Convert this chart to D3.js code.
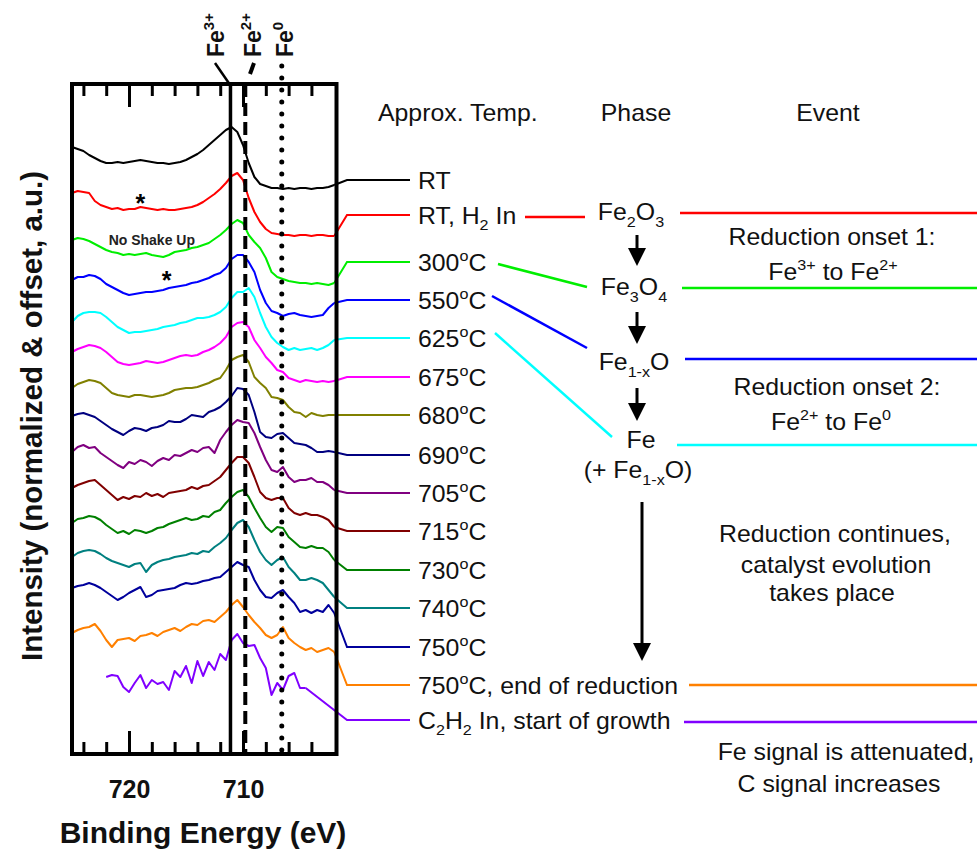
<!DOCTYPE html>
<html>
<head>
<meta charset="utf-8">
<script src="https://cdn.jsdelivr.net/npm/d3@7"></script>
<style>
  body { margin: 0; background: #fff; }
  svg { display: block; font-family: "Liberation Sans", Arial, sans-serif; }
</style>
</head>
<body>
<svg id="chart" width="977" height="852"></svg>
<script>
// Binding energy grid (eV), shared by all spectra
const energies = [725, 724.5, 724, 723.5, 723, 722.5, 722, 721.5, 721, 720.5,
  720, 719.5, 719, 718.5, 718, 717.5, 717, 716.5, 716, 715.5,
  715, 714.5, 714, 713.5, 713, 712.5, 712, 711.5, 711, 710.5,
  710, 709.5, 709, 708.5, 708, 707.5, 707, 706.5, 706, 705.5,
  705, 704.5, 704, 703.5, 703, 702.5, 702];

// Intensities (normalized & offset, a.u.)
const rtVals = [60.7, 60.5, 60.3, 59.9, 59.6, 59.3, 59.1, 59.1, 59.2, 59.1,
  59.2, 59.3, 59.4, 59.3, 59.2, 59.1, 59.1, 59.0, 59.1, 59.2,
  59.4, 59.7, 60.0, 60.4, 60.9, 61.4, 61.9, 62.4, 62.7, 62.2,
  60.9, 59.1, 57.7, 57.0, 56.8, 56.6, 56.6, 56.5, 56.6, 56.5,
  56.6, 56.6, 56.5, 56.6, 56.6, 56.7, 56.9];
const rtH2Vals = [56.1, 56.3, 56.2, 56.1, 55.3, 54.9, 54.7, 54.5, 54.6, 54.4,
  54.5, 54.5, 54.7, 54.6, 54.5, 54.4, 54.5, 54.4, 54.4, 54.5,
  54.6, 54.7, 54.9, 55.2, 55.6, 56.0, 56.5, 57.1, 57.8, 58.1,
  57.4, 55.6, 54.2, 53.2, 52.5, 52.1, 52.0, 51.9, 51.9, 51.8,
  51.9, 51.9, 51.8, 51.9, 51.9, 51.8, 51.8];
const t300Vals = [51.4, 51.6, 51.5, 51.3, 51.0, 50.7, 50.4, 50.2, 50.1, 49.9,
  50.0, 49.9, 50.0, 50.1, 49.9, 49.8, 49.7, 49.9, 50.2, 50.3,
  50.4, 50.6, 50.7, 50.9, 51.1, 51.5, 51.9, 52.4, 53.0, 53.4,
  53.1, 51.9, 51.2, 50.6, 49.6, 48.2, 47.7, 47.5, 47.3, 47.2,
  47.1, 47.1, 47.0, 47.1, 47.0, 46.9, 47.1];
const t550Vals = [47.4, 47.7, 47.7, 47.9, 47.8, 47.5, 47.0, 46.7, 46.4, 46.1,
  45.9, 46.0, 46.1, 46.2, 46.2, 46.3, 46.4, 46.6, 46.7, 46.8,
  46.9, 47.1, 47.2, 47.4, 47.6, 47.9, 48.1, 48.6, 49.5, 49.9,
  49.9, 49.2, 48.2, 46.4, 45.1, 44.3, 44.1, 43.8, 44.0, 44.1,
  43.9, 43.8, 43.7, 43.8, 43.9, 44.6, 45.1];
const t625Vals = [43.2, 43.8, 44.1, 44.2, 44.2, 44.1, 43.7, 43.2, 42.7, 42.4,
  42.1, 42.2, 42.2, 42.3, 42.4, 42.5, 42.7, 42.8, 42.9, 43.1,
  43.2, 43.4, 43.6, 43.6, 43.7, 43.9, 44.2, 44.7, 45.6, 46.2,
  46.2, 46.6, 45.7, 44.1, 42.7, 41.7, 41.1, 40.7, 40.4, 40.6,
  40.4, 40.5, 40.6, 40.4, 40.6, 40.9, 41.4];
const t675Vals = [40.2, 40.5, 40.7, 40.9, 40.8, 40.6, 40.2, 39.7, 39.2, 39.0,
  38.9, 39.0, 39.1, 39.3, 39.2, 39.1, 39.2, 39.4, 39.6, 39.8,
  39.9, 39.8, 39.9, 40.2, 40.4, 40.7, 41.1, 41.7, 42.7, 43.1,
  43.2, 42.7, 41.4, 40.6, 39.7, 39.1, 38.4, 38.2, 37.6, 37.4,
  37.2, 37.4, 37.3, 37.2, 37.3, 37.2, 37.3];
const t680Vals = [36.6, 37.0, 37.2, 37.4, 37.3, 37.1, 36.6, 36.1, 35.9, 35.8,
  35.7, 35.9, 35.9, 35.8, 35.7, 35.8, 35.9, 36.1, 36.4, 36.5,
  36.6, 36.6, 36.7, 36.9, 37.1, 37.4, 37.6, 38.4, 39.4, 39.7,
  39.9, 39.2, 37.7, 37.1, 36.6, 35.7, 35.6, 35.4, 34.7, 34.2,
  34.1, 33.7, 34.1, 33.9, 33.8, 33.9, 33.9];
const t690Vals = [33.8, 34.0, 34.1, 33.9, 33.7, 33.3, 32.9, 32.5, 32.2, 31.9,
  32.3, 32.6, 32.5, 32.3, 32.6, 32.7, 32.9, 33.3, 33.2, 33.2,
  33.5, 33.9, 33.8, 33.7, 34.2, 34.4, 34.7, 35.2, 35.8, 36.6,
  36.5, 35.9, 34.2, 32.2, 31.7, 31.6, 32.0, 32.1, 31.6, 31.1,
  31.0, 30.9, 30.6, 30.2, 30.2, 30.3, 30.2];
const t705Vals = [30.2, 30.7, 30.9, 30.6, 30.7, 30.1, 29.7, 29.3, 28.9, 28.6,
  29.2, 29.0, 29.4, 29.2, 28.8, 29.3, 29.6, 29.4, 29.9, 29.8,
  30.1, 30.4, 30.2, 30.6, 30.7, 30.1, 31.4, 32.2, 32.9, 33.4,
  33.2, 33.1, 32.1, 30.7, 29.4, 28.4, 28.2, 28.7, 27.7, 27.2,
  27.4, 27.4, 27.6, 27.2, 27.2, 26.9, 26.4];
const t715Vals = [26.6, 26.9, 27.1, 27.3, 27.4, 26.9, 26.4, 25.9, 25.4, 25.7,
  25.5, 25.8, 25.7, 26.1, 25.8, 26.0, 25.7, 26.1, 26.2, 26.3,
  26.4, 26.7, 26.5, 26.8, 26.9, 27.3, 27.7, 28.4, 29.1, 29.7,
  29.7, 29.1, 27.7, 26.2, 25.6, 25.4, 25.6, 25.6, 24.6, 24.1,
  23.9, 24.1, 23.9, 23.9, 23.7, 23.4, 22.7];
const t730Vals = [23.1, 23.5, 23.6, 23.8, 23.7, 23.4, 22.9, 22.5, 22.1, 22.3,
  22.0, 22.4, 22.3, 22.1, 22.3, 22.6, 22.7, 23.0, 23.2, 23.4,
  23.6, 23.4, 23.5, 23.8, 23.7, 24.2, 24.4, 25.1, 25.7, 26.2,
  26.4, 25.7, 24.6, 23.6, 22.7, 22.2, 22.7, 22.6, 21.7, 21.2,
  20.7, 20.6, 20.8, 20.6, 20.6, 20.2, 19.4];
const t740Vals = [19.7, 20.1, 20.3, 20.4, 20.3, 20.0, 19.6, 19.3, 19.1, 18.9,
  18.7, 19.0, 19.1, 18.2, 18.9, 19.2, 19.4, 19.5, 19.7, 19.8,
  19.9, 20.1, 20.0, 20.3, 20.2, 20.7, 21.1, 21.6, 22.4, 23.1,
  23.4, 22.7, 21.4, 20.2, 19.4, 18.9, 19.4, 19.7, 18.7, 18.1,
  17.4, 17.4, 17.6, 17.4, 17.1, 16.4, 15.7];
const t750Vals = [16.6, 16.8, 16.9, 17.1, 16.9, 16.6, 16.2, 15.8, 15.4, 15.7,
  16.1, 16.4, 16.7, 15.7, 15.9, 16.3, 16.4, 16.5, 16.6, 16.9,
  17.1, 17.0, 17.1, 17.3, 17.4, 17.6, 17.7, 18.2, 18.7, 19.2,
  18.9, 18.7, 17.4, 16.4, 15.7, 15.6, 16.1, 16.4, 15.7, 15.1,
  14.2, 14.4, 14.1, 14.4, 14.2, 14.9, 14.1];
const endVals = [12.1, 12.4, 12.6, 12.7, 13.0, 12.3, 11.4, 10.7, 11.4, 11.5,
  11.6, 11.3, 11.8, 11.9, 12.1, 11.8, 12.2, 12.4, 12.6, 12.3,
  12.7, 13.0, 12.9, 13.3, 13.4, 13.2, 13.7, 14.2, 14.9, 15.4,
  14.7, 13.9, 13.2, 12.6, 11.9, 11.6, 11.9, 12.7, 11.6, 11.1,
  10.7, 10.4, 10.6, 10.2, 10.4, 10.6, 10.2];
const c2h2Vals = [null, null, null, null, null, null, 7.7, 7.9, 7.8, 6.7,
  6.2, 7.1, 7.9, 6.6, 7.4, 7.0, 7.2, 6.4, 8.3, 7.7,
  8.8, 7.1, 9.3, 7.8, 9.2, 8.4, 10.0, 9.4, 11.4, 12.0,
  11.1, 10.8, 10.9, 9.6, 8.6, 5.9, 7.1, 6.4, 7.8, 8.1,
  6.6, 6.6, null, null, null, null, null];

// Labels (text parts: [string, "sub" | "sup"])
const tempLabels = [
  [["RT"]],
  [["RT, H"], ["2", "sub"], [" In"]],
  [["300"], ["o", "sup"], ["C"]],
  [["550"], ["o", "sup"], ["C"]],
  [["625"], ["o", "sup"], ["C"]],
  [["675"], ["o", "sup"], ["C"]],
  [["680"], ["o", "sup"], ["C"]],
  [["690"], ["o", "sup"], ["C"]],
  [["705"], ["o", "sup"], ["C"]],
  [["715"], ["o", "sup"], ["C"]],
  [["730"], ["o", "sup"], ["C"]],
  [["740"], ["o", "sup"], ["C"]],
  [["750"], ["o", "sup"], ["C"]],
  [["750"], ["o", "sup"], ["C, end of reduction"]],
  [["C"], ["2", "sub"], ["H"], ["2", "sub"], [" In, start of growth"]]
];
const colors = ["#000000", "#ff0000", "#00ee00", "#0000ff", "#00ffff", "#ff00ff", "#808000",
  "#000080", "#800080", "#800000", "#008000", "#008080", "#00009c", "#ff8000", "#8000ff"];
const allVals = [rtVals, rtH2Vals, t300Vals, t550Vals, t625Vals, t675Vals, t680Vals,
  t690Vals, t705Vals, t715Vals, t730Vals, t740Vals, t750Vals, endVals, c2h2Vals];

// Reference binding energies of the iron states (eV)
const refLines = [
  { name: "3+", e: 711.1, dash: null, width: 3.5 },
  { name: "2+", e: 709.8, dash: "13 6", width: 4 },
  { name: "0", e: 706.6, dash: "0 12", width: 5 }
];
const minorTicks = [724, 722, 718, 716, 714, 712, 708, 706, 704];
const majorTicks = [720, 710];
const stars = [{ e: 719.0, v: 55.6 }, { e: 716.7, v: 47.9 }];
const shakeNote = { e: 718.0, v: 51.4, text: "No Shake Up" };

// ---------------------------------------------------------------
const svg = d3.select("#chart");
const x = d3.scaleLinear().domain([725, 701.8]).range([72, 336.5]);
const y = d3.scaleLinear().domain([0, 67]).range([754, 84]);
const [x0, x1] = x.range();
const [yB, yT] = y.range();

const SX = 1.08, FS = 23;
function rich(g, parts, transform, anchor, fs, bold) {
  const t = g.append("text")
    .attr("transform", transform)
    .attr("text-anchor", anchor)
    .attr("font-size", fs)
    .attr("font-weight", bold ? "bold" : null)
    .attr("fill", "#111");
  let shift = 0;
  parts.forEach(([str, kind]) => {
    const target = kind === "sub" ? fs * 0.3 : kind === "sup" ? -fs * 0.42 : 0;
    const ts = t.append("tspan").text(str).attr("dy", target - shift);
    if (kind) ts.attr("font-size", fs * 0.65);
    shift = target;
  });
  return t;
}

const series = allVals.map((vals, i) => ({
  color: colors[i],
  label: tempLabels[i],
  points: energies.map((e, j) => ({ e: e, v: vals[j] }))
}));

const line = d3.line()
  .defined(d => d.v != null)
  .x(d => x(d.e))
  .y(d => y(d.v));

// spectra
svg.append("g").selectAll("path")
  .data(series)
  .enter().append("path")
  .attr("d", d => line(d.points))
  .attr("fill", "none")
  .attr("stroke", d => d.color)
  .attr("stroke-width", 2)
  .attr("stroke-linejoin", "round");

// connectors to the temperature labels
const rowY = [180, 215, 262, 300, 338, 377, 415, 455, 493, 531, 570, 608, 647, 685, 720];
const bendX = 347, endX = 410;
svg.append("g").selectAll("path")
  .data(series)
  .enter().append("path")
  .attr("d", (d, i) => {
    const last = d.points.filter(p => p.v != null).pop();
    return `M${x(last.e)},${y(last.v)}L${bendX},${rowY[i]}L${endX},${rowY[i]}`;
  })
  .attr("fill", "none")
  .attr("stroke", d => d.color)
  .attr("stroke-width", 2);

const labG = svg.append("g");
series.forEach((s, i) => {
  rich(labG, s.label, `translate(418,${rowY[i] + 8.5}) scale(${SX},1)`, "start", FS);
});

// reference lines for Fe3+, Fe2+, Fe0
refLines.forEach(r => {
  svg.append("line")
    .attr("x1", x(r.e)).attr("x2", x(r.e))
    .attr("y1", r.name === "0" ? 66 : yT).attr("y2", yB)
    .attr("stroke", "#000")
    .attr("stroke-width", r.width)
    .attr("stroke-dasharray", r.dash)
    .attr("stroke-linecap", r.name === "0" ? "round" : "butt");
  const lx = { "3+": 224, "2+": 261, "0": 293 }[r.name];
  rich(svg, [["Fe"], [r.name, "sup"]], `translate(${lx},57) rotate(-90)`, "start", 23, true);
});
svg.append("line").attr("x1", 215).attr("y1", 63).attr("x2", x(711.1) - 1).attr("y2", yT)
  .attr("stroke", "#000").attr("stroke-width", 2.5);
svg.append("line").attr("x1", 250).attr("y1", 74).attr("x2", 254).attr("y2", 63)
  .attr("stroke", "#000").attr("stroke-width", 4);

// frame and ticks
svg.append("rect")
  .attr("x", x0).attr("y", yT).attr("width", x1 - x0).attr("height", yB - yT)
  .attr("fill", "none").attr("stroke", "#000").attr("stroke-width", 4);

function styleAxis(g) {
  g.select(".domain").remove();
  g.selectAll(".tick line").attr("stroke", "#000").attr("stroke-width", 3);
}
svg.append("g").attr("transform", `translate(0,${yB})`)
  .call(d3.axisBottom(x).tickValues(minorTicks).tickSize(-12).tickFormat(""))
  .call(styleAxis);
svg.append("g").attr("transform", `translate(0,${yT})`)
  .call(d3.axisTop(x).tickValues(minorTicks).tickSize(-12).tickFormat(""))
  .call(styleAxis);
svg.append("g").attr("transform", `translate(0,${yT})`)
  .call(d3.axisTop(x).tickValues(majorTicks).tickSize(-23).tickFormat(""))
  .call(styleAxis);
const xAxis = svg.append("g").attr("transform", `translate(0,${yB})`)
  .call(d3.axisBottom(x).tickValues(majorTicks).tickSize(-23).tickPadding(26).tickFormat(d3.format("d")))
  .call(styleAxis);
xAxis.attr("font-family", null).attr("font-size", null);
xAxis.selectAll("text").attr("font-size", 25).attr("font-weight", "bold").attr("fill", "#111");

// stars and note inside the plot
svg.append("g").selectAll("text")
  .data(stars)
  .enter().append("text")
  .attr("x", d => x(d.e)).attr("y", d => y(d.v))
  .attr("dy", "0.575em")
  .attr("text-anchor", "middle")
  .attr("font-size", 25).attr("font-weight", "bold")
  .text("*");
svg.append("text")
  .attr("x", x(shakeNote.e)).attr("y", y(shakeNote.v))
  .attr("dy", "0.36em")
  .attr("text-anchor", "middle")
  .attr("font-size", 14).attr("font-weight", "bold").attr("fill", "#222")
  .text(shakeNote.text);

// axis titles
svg.append("text")
  .attr("transform", "translate(42,416) rotate(-90)")
  .attr("text-anchor", "middle")
  .attr("font-size", 29.5).attr("font-weight", "bold").attr("fill", "#111")
  .text("Intensity (normalized & offset, a.u.)");
svg.append("text")
  .attr("x", 203).attr("y", 843)
  .attr("text-anchor", "middle")
  .attr("font-size", 30).attr("font-weight", "bold").attr("fill", "#111")
  .text("Binding Energy (eV)");

// column headings
const headG = svg.append("g");
rich(headG, [["Approx. Temp."]], `translate(378,121) scale(${SX},1)`, "start", FS);
rich(headG, [["Phase"]], `translate(636,121) scale(${SX},1)`, "middle", FS);
rich(headG, [["Event"]], `translate(828,121) scale(${SX},1)`, "middle", FS);

// phase column
const phases = [
  { parts: [["Fe"], ["2", "sub"], ["O"], ["3", "sub"]], cx: 631, by: 220 },
  { parts: [["Fe"], ["3", "sub"], ["O"], ["4", "sub"]], cx: 634, by: 295 },
  { parts: [["Fe"], ["1-x", "sub"], ["O"]], cx: 634, by: 370 },
  { parts: [["Fe"]], cx: 641, by: 448 },
  { parts: [["(+ Fe"], ["1-x", "sub"], ["O)"]], cx: 638, by: 478 }
];
const phG = svg.append("g");
phases.forEach(p => rich(phG, p.parts, `translate(${p.cx},${p.by}) scale(${SX},1)`, "middle", FS));

const arrows = [
  { x: 637, y1: 235, y2: 266 },
  { x: 637, y1: 312, y2: 344 },
  { x: 637, y1: 388, y2: 421 },
  { x: 642, y1: 502, y2: 661 }
];
arrows.forEach(a => {
  phG.append("line").attr("x1", a.x).attr("x2", a.x).attr("y1", a.y1).attr("y2", a.y2 - 14)
    .attr("stroke", "#000").attr("stroke-width", 3);
  phG.append("path")
    .attr("d", `M${a.x - 9},${a.y2 - 18}L${a.x + 9},${a.y2 - 18}L${a.x},${a.y2}Z`)
    .attr("fill", "#000");
});

// links from temperatures to phases, and event dividers
const links = [
  { c: "#ff0000", x1: 525, y1: 217, x2: 585, y2: 217 },
  { c: "#00ee00", x1: 498, y1: 264, x2: 587, y2: 287 },
  { c: "#0000ff", x1: 492, y1: 296, x2: 587, y2: 348 },
  { c: "#00ffff", x1: 495, y1: 333, x2: 612, y2: 437 },
  { c: "#ff0000", x1: 680, y1: 213, x2: 977, y2: 213 },
  { c: "#00ee00", x1: 682, y1: 288, x2: 977, y2: 288 },
  { c: "#0000ff", x1: 685, y1: 359, x2: 977, y2: 359 },
  { c: "#00ffff", x1: 677, y1: 445, x2: 977, y2: 445 },
  { c: "#ff8000", x1: 689, y1: 685, x2: 977, y2: 685 },
  { c: "#8000ff", x1: 684, y1: 722, x2: 977, y2: 722 }
];
svg.append("g").selectAll("line")
  .data(links)
  .enter().append("line")
  .attr("x1", d => d.x1).attr("y1", d => d.y1)
  .attr("x2", d => d.x2).attr("y2", d => d.y2)
  .attr("stroke", d => d.c)
  .attr("stroke-width", 2.5);

// event column
const events = [
  { parts: [["Reduction onset 1:"]], cx: 832, by: 245 },
  { parts: [["Fe"], ["3+", "sup"], [" to Fe"], ["2+", "sup"]], cx: 833, by: 280 },
  { parts: [["Reduction onset 2:"]], cx: 837, by: 395 },
  { parts: [["Fe"], ["2+", "sup"], [" to Fe"], ["0", "sup"]], cx: 831, by: 430 },
  { parts: [["Reduction continues,"]], cx: 835, by: 542 },
  { parts: [["catalyst evolution"]], cx: 836, by: 573 },
  { parts: [["takes place"]], cx: 832, by: 601 },
  { parts: [["Fe signal is attenuated,"]], cx: 846, by: 760 },
  { parts: [["C signal increases"]], cx: 839, by: 792 }
];
const evG = svg.append("g");
events.forEach(ev => rich(evG, ev.parts, `translate(${ev.cx},${ev.by}) scale(${SX},1)`, "middle", FS));
</script>
</body>
</html>
